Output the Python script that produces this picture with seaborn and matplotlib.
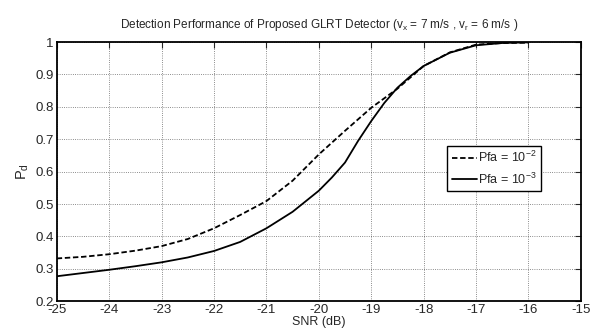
import numpy as np
import pandas as pd
import seaborn as sns
import matplotlib.pyplot as plt

# values
snr_pfa2 = [-25, -24.5, -24, -23.5, -23, -22.5, -22, -21.5, -21, -20.5,
            -20, -19.5, -19, -18.5, -18, -17.5, -17, -16.5, -16]
pd_pfa2 = [0.332, 0.337, 0.345, 0.356, 0.370, 0.392, 0.425, 0.466, 0.509, 0.572,
           0.653, 0.726, 0.797, 0.856, 0.926, 0.968, 0.992, 0.997, 0.998]
snr_pfa3 = [-25, -24.5, -24, -23.5, -23, -22.5, -22, -21.5, -21, -20.5,
            -20, -19.75, -19.5, -19.25, -19, -18.75, -18.5, -18.25, -18,
            -17.5, -17, -16.5, -16]
pd_pfa3 = [0.277, 0.287, 0.297, 0.308, 0.320, 0.335, 0.355, 0.383, 0.425, 0.476,
           0.541, 0.582, 0.628, 0.695, 0.756, 0.812, 0.859, 0.895, 0.926,
           0.967, 0.990, 0.997, 0.999]
labels = ["Pfa = 10$^{-2}$", "Pfa = 10$^{-3}$"]

df = pd.DataFrame({
    "snr": snr_pfa2 + snr_pfa3,
    "pd": pd_pfa2 + pd_pfa3,
    "curve": [labels[0]] * len(snr_pfa2) + [labels[1]] * len(snr_pfa3),
})

sns.set_style("white")
plt.rcParams['font.family'] = ['Liberation Sans', 'DejaVu Sans']
plt.rcParams['mathtext.fontset'] = 'custom'
plt.rcParams['mathtext.rm'] = 'Liberation Sans'
plt.rcParams['mathtext.it'] = 'Liberation Sans'
plt.rcParams['mathtext.default'] = 'regular'
plt.rcParams['axes.unicode_minus'] = False

fig = plt.figure(figsize=(5.97, 3.31), dpi=100)
ax = fig.add_axes([0.095, 0.09, 0.878, 0.783])

sns.lineplot(data=df, x="snr", y="pd", hue="curve", style="curve",
             palette=["black", "black"], dashes=[(3, 1.5), ""],
             linewidth=1.3, ax=ax)

ax.set_xlim(-25, -15)
ax.set_ylim(0.2, 1)
ax.set_xticks(np.arange(-25, -14, 1))
ax.set_yticks(np.arange(0.2, 1.01, 0.1))
ax.set_yticklabels(["0.2", "0.3", "0.4", "0.5", "0.6", "0.7", "0.8", "0.9", "1"])
ax.grid(True, color="black", linestyle=":", linewidth=0.6, alpha=0.6)
ax.tick_params(direction="in", top=True, right=True, labelsize=9.5,
               length=4, width=0.8, pad=2)
for s in ax.spines.values():
    s.set_linewidth(1.3)
    s.set_color("black")

ax.set_xlabel("SNR (dB)", fontsize=9, labelpad=0)
ax.set_ylabel("P$_d$", fontsize=10.5, labelpad=3)
ax.set_title("Detection Performance of Proposed GLRT Detector (v$_x$ = 7 m/s , v$_r$ = 6 m/s )",
             fontsize=8.5, pad=10)

leg = ax.legend(loc="upper left", bbox_to_anchor=(0.745, 0.6), fontsize=9,
                fancybox=False, edgecolor="black", framealpha=1,
                handlelength=2.0, handletextpad=0.1, borderpad=0.35,
                borderaxespad=0, labelspacing=0.5)
leg.get_frame().set_linewidth(1.0)

fig.savefig("out.png", dpi=100)
